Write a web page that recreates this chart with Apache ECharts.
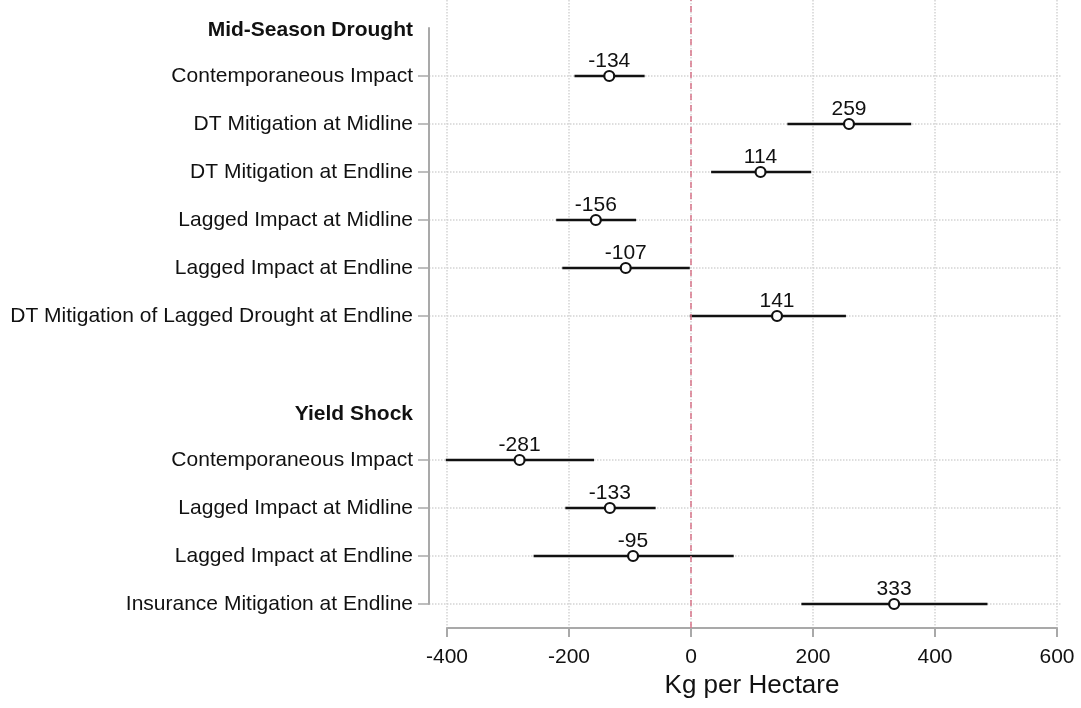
<!DOCTYPE html>
<html>
<head>
<meta charset="utf-8">
<script src="https://cdn.jsdelivr.net/npm/echarts@6/dist/echarts.min.js"></script>
<style>
  html, body { margin: 0; padding: 0; background: #fff; }
  #main-chart { width: 1081px; height: 708px; }
</style>
</head>
<body>
<div id="main-chart"></div>
<script>
// rows top to bottom; headers carry no estimate
const categories = [
  'Mid-Season Drought',
  'Contemporaneous Impact',
  'DT Mitigation at Midline',
  'DT Mitigation at Endline',
  'Lagged Impact at Midline',
  'Lagged Impact at Endline',
  'DT Mitigation of Lagged Drought at Endline',
  '',
  'Yield Shock',
  'Contemporaneous Impact',
  'Lagged Impact at Midline',
  'Lagged Impact at Endline',
  'Insurance Mitigation at Endline'
]
const headerRows = [0, 8]
const estimates = [null, -134, 259, 114, -156, -107, 141, null, null, -281, -133, -95, 333]
const lowerCI = [null, -191, 158, 33, -221, -211, -2, null, null, -402, -206, -258, 181]
const upperCI = [null, -76, 361, 197, -90, -2, 254, null, null, -159, -58, 70, 486]
const xTicks = [-400, -200, 0, 200, 400, 600]

const FONT = '"Liberation Sans", Arial, sans-serif'
const AXIS_GRAY = '#a9a9a9'
const GRID_GRAY = '#d4d4d4'

const isDataRow = i => categories[i] !== '' && !headerRows.includes(i)

// pixel layout of the plot
const X0 = 447, X1 = 1057, PLOT_LEFT = 429, PLOT_RIGHT = 1062
const pxPerUnit = (X1 - X0) / (xTicks[xTicks.length - 1] - xTicks[0])
const innerMin = xTicks[0] - (X0 - PLOT_LEFT) / pxPerUnit
const innerMax = xTicks[xTicks.length - 1] + (PLOT_RIGHT - X1) / pxPerUnit

const points = []
const bars = []
estimates.forEach((v, i) => {
  if (v === null) return
  points.push([v, i])
  bars.push([lowerCI[i], upperCI[i], i])
})

const chart = echarts.init(document.getElementById('main-chart'))
chart.setOption({
  animation: false,
  textStyle: { fontFamily: FONT },
  grid: [
    { left: PLOT_LEFT, right: 1081 - PLOT_RIGHT, top: 28, bottom: 104 },
    { left: X0, right: 1081 - X1, top: 0, bottom: 80 }
  ],
  xAxis: [
    {
      gridIndex: 0,
      type: 'value',
      min: innerMin,
      max: innerMax,
      show: false
    },
    {
      gridIndex: 1,
      type: 'value',
      min: xTicks[0],
      max: xTicks[xTicks.length - 1],
      interval: 200,
      name: 'Kg per Hectare',
      nameLocation: 'middle',
      nameGap: 44,
      nameTextStyle: { fontSize: 26, color: '#111', fontFamily: FONT },
      axisLine: { show: true, lineStyle: { color: AXIS_GRAY, width: 2 } },
      axisTick: { show: true, length: 9, lineStyle: { color: AXIS_GRAY, width: 2 } },
      axisLabel: { fontSize: 21, color: '#111', margin: 19, fontFamily: FONT },
      splitLine: { show: true, lineStyle: { color: GRID_GRAY, type: 'dotted', width: 1.5 } }
    }
  ],
  yAxis: [
    {
      gridIndex: 0,
      type: 'category',
      data: categories,
      inverse: true,
      boundaryGap: false,
      axisLine: { show: true, onZero: false, lineStyle: { color: AXIS_GRAY, width: 2 } },
      axisTick: {
        show: true,
        length: 11,
        interval: i => isDataRow(i),
        lineStyle: { color: AXIS_GRAY, width: 1.5 }
      },
      axisLabel: {
        interval: 0,
        margin: 16,
        fontSize: 21,
        color: '#111',
        fontFamily: FONT,
        formatter: (v, i) => headerRows.includes(i) ? '{h|' + v + '}' : v,
        rich: {
          h: { fontSize: 21, fontWeight: 'bold', color: '#111', fontFamily: FONT, padding: [4, 0, 0, 0] }
        }
      },
      splitLine: {
        show: true,
        interval: i => isDataRow(i),
        lineStyle: { color: GRID_GRAY, type: 'dotted', width: 1.5 }
      }
    },
    {
      gridIndex: 1,
      type: 'value',
      min: 0,
      max: 1,
      show: false
    }
  ],
  series: [
    {
      type: 'scatter',
      xAxisIndex: 1,
      yAxisIndex: 1,
      data: [],
      silent: true,
      markLine: {
        silent: true,
        symbol: 'none',
        label: { show: false },
        lineStyle: { color: '#d9768a', type: [6, 5], width: 1.5 },
        data: [{ xAxis: 0 }]
      }
    },
    {
      type: 'custom',
      xAxisIndex: 0,
      yAxisIndex: 0,
      data: bars,
      z: 3,
      renderItem: (params, api) => {
        const a = api.coord([api.value(0), api.value(2)])
        const b = api.coord([api.value(1), api.value(2)])
        return {
          type: 'line',
          shape: { x1: a[0], y1: a[1], x2: b[0], y2: b[1] },
          style: { stroke: '#111', lineWidth: 2.5 }
        }
      }
    },
    {
      type: 'scatter',
      xAxisIndex: 0,
      yAxisIndex: 0,
      data: points,
      z: 4,
      symbol: 'circle',
      symbolSize: 10,
      itemStyle: { color: '#fff', borderColor: '#111', borderWidth: 2.2, opacity: 1 },
      label: {
        show: true,
        position: 'top',
        distance: -2,
        fontSize: 21,
        color: '#111',
        fontFamily: FONT,
        formatter: p => String(p.value[0])
      }
    }
  ]
})
</script>
</body>
</html>
